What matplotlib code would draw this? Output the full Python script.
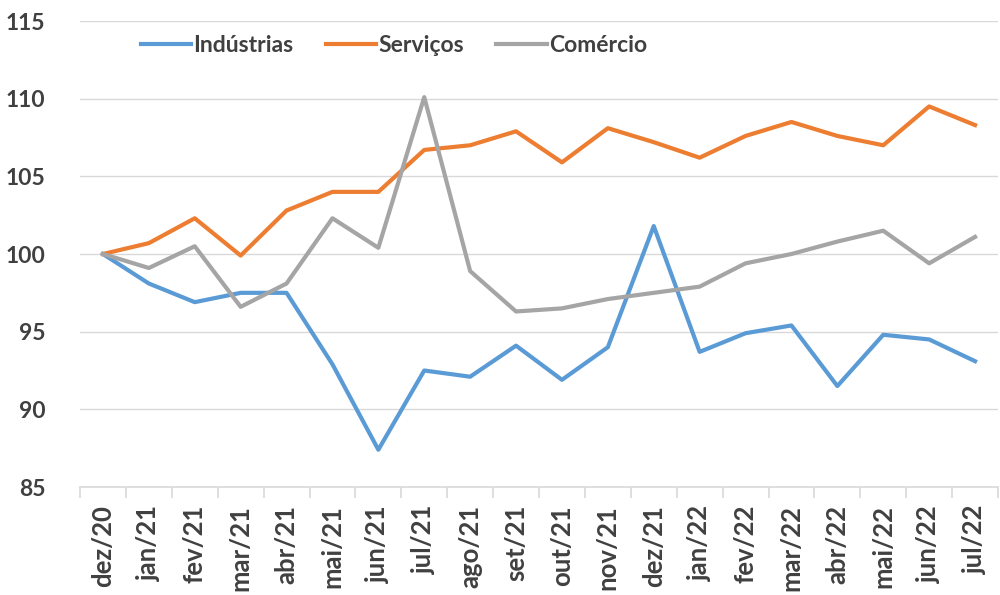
import numpy as np
import matplotlib
matplotlib.use("Agg")
import matplotlib.pyplot as plt

meses = ["dez/20", "jan/21", "fev/21", "mar/21", "abr/21", "mai/21", "jun/21",
         "jul/21", "ago/21", "set/21", "out/21", "nov/21", "dez/21", "jan/22",
         "fev/22", "mar/22", "abr/22", "mai/22", "jun/22", "jul/22"]

industrias = [100, 98.1, 96.9, 97.5, 97.5, 92.9, 87.4, 92.5, 92.1, 94.1,
              91.9, 94.0, 101.8, 93.7, 94.9, 95.4, 91.5, 94.8, 94.5, 93.1]
servicos = [100, 100.7, 102.3, 99.9, 102.8, 104.0, 104.0, 106.7, 107.0, 107.9,
            105.9, 108.1, 107.2, 106.2, 107.6, 108.5, 107.6, 107.0, 109.5, 108.3]
comercio = [100, 99.1, 100.5, 96.6, 98.1, 102.3, 100.4, 110.1, 98.9, 96.3,
            96.5, 97.1, 97.5, 97.9, 99.4, 100.0, 100.8, 101.5, 99.4, 101.1]

cor_texto = "#404040"
cor_grade = "#d9d9d9"
plt.rcParams["font.family"] = ["Lato", "DejaVu Sans"]
plt.rcParams["font.weight"] = "bold"

fig = plt.figure(figsize=(10, 5.95), dpi=100)
ax = fig.add_axes([0.08, 0.1815, 0.918, 0.7832])

x = np.arange(len(meses))
ax.plot(x, industrias, color="#5B9BD5", lw=3, label="Indústrias", solid_joinstyle="round")
ax.plot(x, servicos, color="#ED7D31", lw=3, label="Serviços", solid_joinstyle="round")
ax.plot(x, comercio, color="#A5A5A5", lw=3, label="Comércio", solid_joinstyle="round")

ax.set_xlim(-0.5, len(meses) - 0.5)
ax.set_ylim(85, 115)
ax.set_yticks(range(85, 116, 5))
ax.set_xticks(x)
ax.set_xticklabels(meses, rotation=90)
ax.set_xticks(np.arange(-0.5, len(meses), 1), minor=True)

ax.grid(axis="y", color=cor_grade, lw=1)
ax.set_axisbelow(True)
for s in ["top", "right", "left"]:
    ax.spines[s].set_visible(False)
ax.spines["bottom"].set_color(cor_grade)
ax.spines["bottom"].set_linewidth(1.2)

ax.tick_params(axis="y", length=0, pad=25, labelsize=16.5, labelcolor=cor_texto)
ax.tick_params(axis="x", which="major", length=0, pad=13, labelsize=18.5, labelcolor=cor_texto)
ax.tick_params(axis="x", which="minor", length=8, color=cor_grade, width=1.2)

leg = ax.legend(loc="center", bbox_to_anchor=(0.342, 0.948), ncol=3, frameon=False,
                fontsize=16.5, handlelength=2.2, handletextpad=0.1, columnspacing=1.4)
for t in leg.get_texts():
    t.set_color(cor_texto)

fig.savefig("out.png", dpi=100)
